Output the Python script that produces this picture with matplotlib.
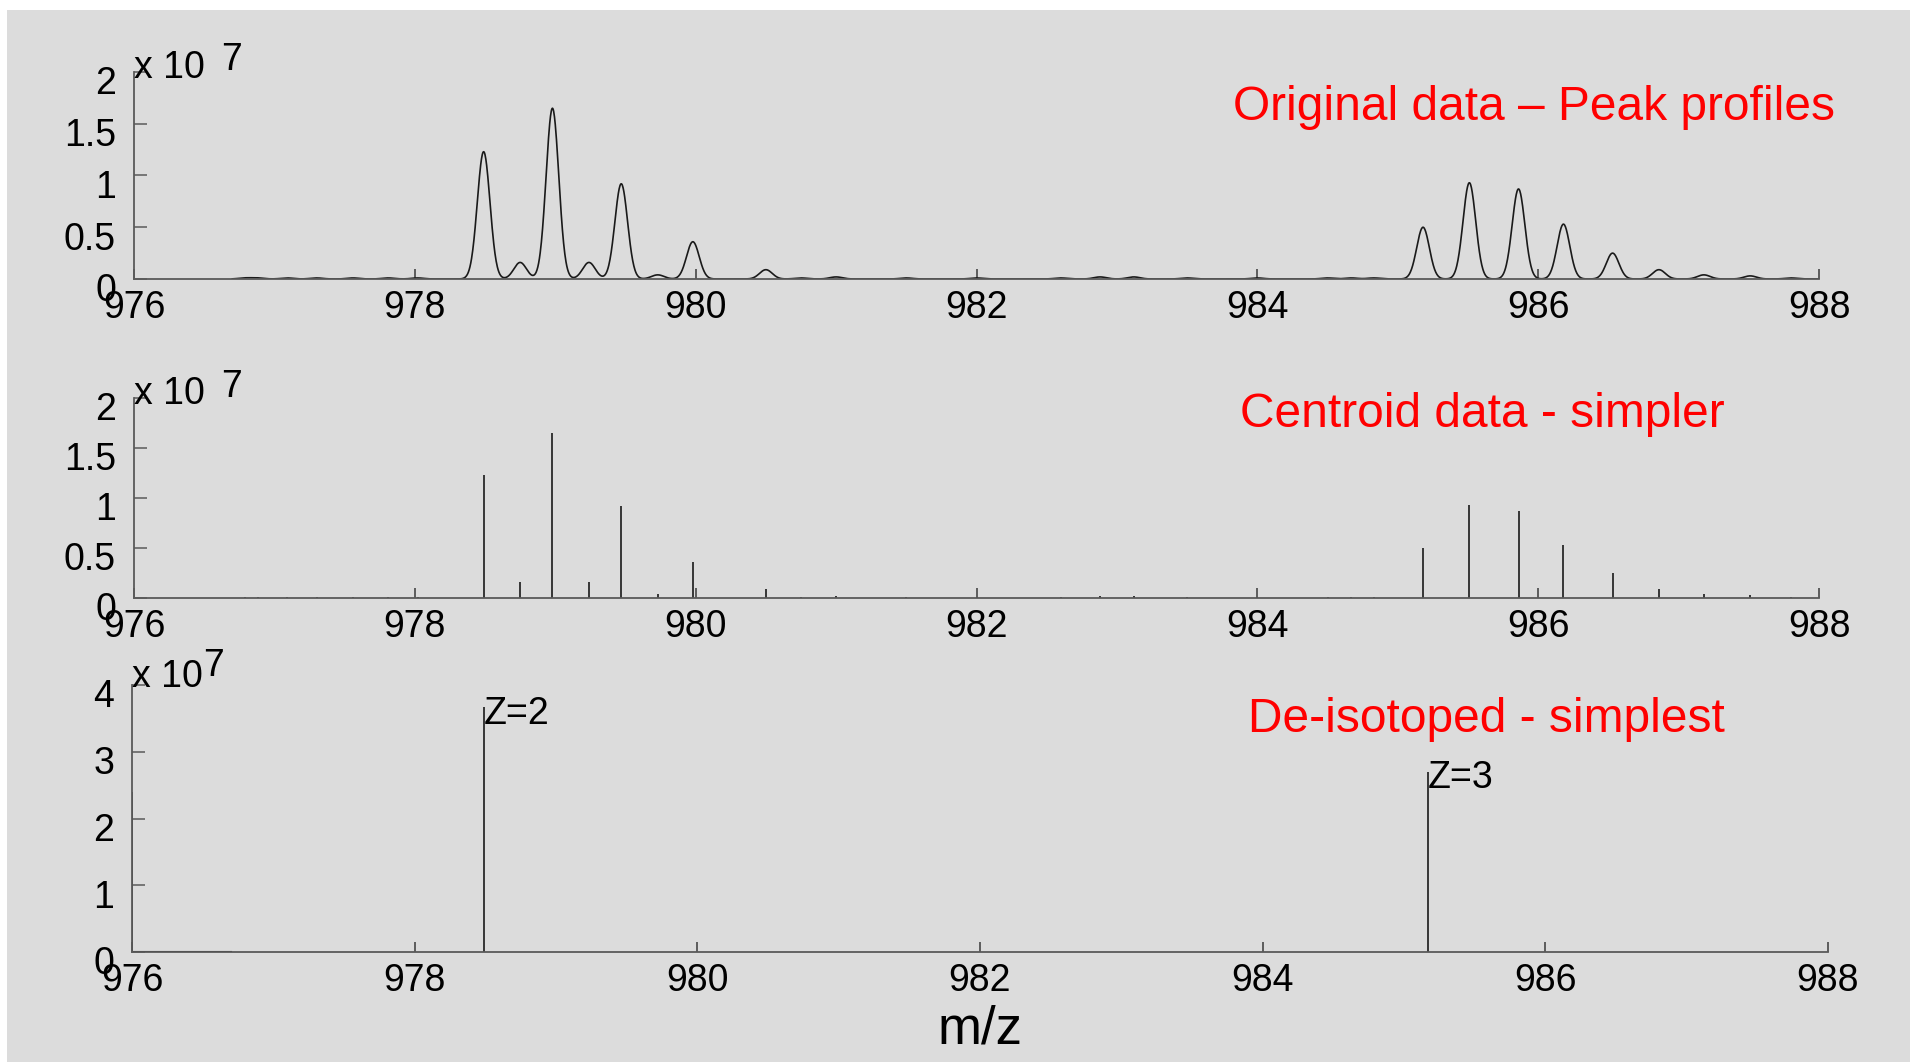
import numpy as np
import matplotlib
matplotlib.use('Agg')
from matplotlib import pyplot as plt
from matplotlib.patches import Rectangle
import matplotlib.transforms as mtransforms

plt.rcParams['font.family'] = ['Liberation Sans', 'DejaVu Sans']

# centroid peak list, intensities in units of 1e7
centroid_mz = [976.79, 976.88, 977.09, 977.30, 977.56, 977.81, 978.02,
               978.49, 978.75, 978.98, 979.24, 979.47, 979.73, 979.98,
               980.50, 980.75, 981.00, 981.50, 982.00, 982.60, 982.88, 983.12,
               983.50, 984.00, 984.50, 984.67, 984.83,
               985.18, 985.51, 985.86, 986.18, 986.53, 986.86, 987.18, 987.51, 987.80]
centroid_int = [0.01, 0.01, 0.01, 0.01, 0.01, 0.01, 0.01,
                1.23, 0.16, 1.65, 0.16, 0.92, 0.04, 0.36,
                0.09, 0.01, 0.02, 0.01, 0.01, 0.01, 0.02, 0.02,
                0.01, 0.01, 0.01, 0.01, 0.01,
                0.50, 0.93, 0.87, 0.53, 0.25, 0.09, 0.04, 0.03, 0.01]

# de-isotoped peaks (monoisotopic), intensities in units of 1e7
deiso_mz = [976.0, 978.49, 985.17]
deiso_int = [2.4, 3.67, 2.70]
deiso_lbl = ['', 'Z=2', 'Z=3']

profile_start = 976.7
peak_sigma = 0.045

titles = ['Original data \u2013 Peak profiles', 'Centroid data - simpler', 'De-isotoped - simplest']
xticks = [976, 978, 980, 982, 984, 986, 988]

W, H = 1912, 1062
fig = plt.figure(figsize=(W / 100, H / 100), dpi=100, facecolor='white')
fig.patches.append(Rectangle((7 / W, 0), (1910 - 7) / W, 1 - 10 / H,
                             transform=fig.transFigure, facecolor='#dcdcdc',
                             edgecolor='none', zorder=-10))


def px_axes(left, right, top, bottom):
    return fig.add_axes([left / W, 1 - bottom / H, (right - left) / W, (bottom - top) / H])


def style(ax, ymax, yticks, yticklabels):
    ax.set_facecolor('none')
    ax.set_xlim(976, 988)
    ax.set_ylim(0, ymax)
    for s in ['top', 'right']:
        ax.spines[s].set_visible(False)
    for s in ['left', 'bottom']:
        ax.spines[s].set_color('#5a5a5a')
        ax.spines[s].set_linewidth(1.3)
    ax.set_xticks(xticks)
    ax.set_xticklabels([str(t) for t in xticks])
    ax.set_yticks(yticks)
    ax.set_yticklabels(yticklabels)
    ax.tick_params(axis='x', direction='in', length=7, width=1.1, color='#3a3a3a',
                   labelsize=27, pad=8)
    ax.tick_params(axis='y', direction='in', length=9, width=1.1, color='#5a5a5a',
                   labelsize=27, pad=13)
    off = mtransforms.ScaledTranslation(0, -6 / 72, fig.dpi_scale_trans)
    for lab in ax.get_yticklabels():
        lab.set_transform(lab.get_transform() + off)


def exponent(ax, y1, x2, y2):
    ax.text(0.0, y1, 'x 10', transform=ax.transAxes, fontsize=27, ha='left', va='center')
    ax.text(x2, y2, '7', transform=ax.transAxes, fontsize=27, ha='left', va='center')


mz = np.array(centroid_mz)
inten = np.array(centroid_int) * 1e7

# panel 1: profile data
ax1 = px_axes(134, 1819, 72, 279)
xs = np.linspace(profile_start, 988, 4000)
ys = np.zeros_like(xs)
for m, a in zip(mz, inten):
    ys += a * np.exp(-0.5 * ((xs - m) / peak_sigma) ** 2)
ax1.plot(xs, ys, color='#1a1a1a', lw=1.2)
style(ax1, 2e7, [0, 0.5e7, 1e7, 1.5e7, 2e7], ['0', '0.5', '1', '1.5', '2'])
exponent(ax1, 1.02, 0.052, 1.06)

# panel 2: centroid sticks
ax2 = px_axes(134, 1819, 398, 598)
ax2.vlines(mz, 0, inten, color='#1a1a1a', lw=1.2)
style(ax2, 2e7, [0, 0.5e7, 1e7, 1.5e7, 2e7], ['0', '0.5', '1', '1.5', '2'])
exponent(ax2, 1.02, 0.052, 1.055)

# panel 3: de-isotoped
ax3 = px_axes(132, 1828, 685, 952)
dm = np.array(deiso_mz)
di = np.array(deiso_int) * 1e7
ax3.vlines(dm, 0, di, color='#1a1a1a', lw=1.2)
ax3.plot([976.0, profile_start], [0, 0], color='#1a1a1a', lw=1.5)
for m, a, t in zip(dm, di, deiso_lbl):
    if t:
        ax3.text(m, a - 0.1e7, t, fontsize=27, ha='left', va='center')
style(ax3, 4e7, [0, 1e7, 2e7, 3e7, 4e7], ['0', '1', '2', '3', '4'])
exponent(ax3, 1.03, 0.042, 1.07)
ax3.set_xlabel('m/z', fontsize=38, labelpad=4)

# red annotations
fig.text(1835 / W, 1 - 120 / H, titles[0], color='red', fontsize=34.5, ha='right',
         va='baseline')
fig.text(1725 / W, 1 - 427 / H, titles[1], color='red', fontsize=34.5, ha='right',
         va='baseline')
fig.text(1725 / W, 1 - 732 / H, titles[2], color='red', fontsize=34.5, ha='right',
         va='baseline')

fig.savefig('out.png', dpi=100, facecolor='white')
